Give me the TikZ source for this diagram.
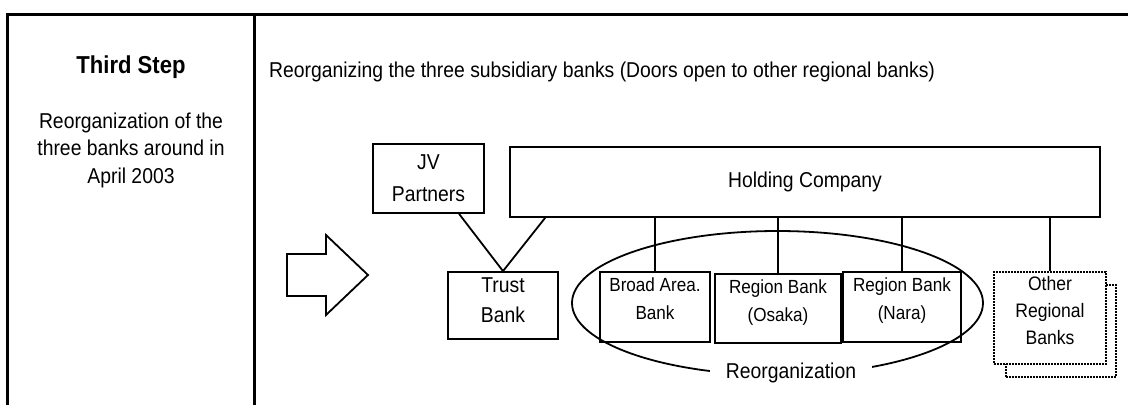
\documentclass[tikz,border=0pt]{standalone}
\usepackage{fontspec}
\setmainfont{Liberation Sans}[FakeStretch=0.9]
\usetikzlibrary{shapes.geometric,calc}
\newcommand{\dropline}[1]{\rule[-#1]{0pt}{#1}}
\begin{document}
\begin{tikzpicture}[x=1pt,y=-1pt,
  every node/.style={font=\fontsize{21.5}{30}\selectfont, inner sep=0pt},
  box/.style={draw, line width=1.8pt, align=center},
  small/.style={font=\fontsize{19}{28}\selectfont},
  frame/.style={line width=3pt},
  conn/.style={line width=1.8pt},
  dotbox/.style={draw, line width=2.6pt, dash pattern=on 2pt off 1pt, align=center}]
\useasboundingbox (0,0) rectangle (1128,405);
% frame
\draw[frame] (7,405) -- (7,14) -- (1128,14);
\draw[frame] (254,14) -- (254,405);
% left column
\node[font=\bfseries\fontsize{24.5}{30}\selectfont] (step) at (131,67) {Third Step};
\node[align=center, font=\fontsize{21.5}{27.5}\selectfont] (desc) at (131,150) {Reorganization of the\\three banks around in\\April 2003};
% title
\node[anchor=west] (title) at (269,72) {Reorganizing the three subsidiary banks (Doors open to other regional banks)};
% block arrow
\draw[line width=1.8pt, line join=miter] (287,254) -- (326,254) -- (326,235) -- (368,275) -- (326,315) -- (326,296) -- (287,296) -- cycle;
% ellipse
\node[draw, ellipse, line width=1.8pt, minimum width=411pt, minimum height=144pt] (reorg) at (777.5,303) {};
\node[fill=white, inner xsep=16pt, inner ysep=3pt] (reorglabel) at (791,373) {Reorganization};
% boxes
\node[box, minimum width=111pt, minimum height=69pt] (jv) at (428.5,178.5) {JV\\[2pt]Partners};
\node[box, minimum width=590pt, minimum height=70pt] (holding) at (805,182) {Holding Company};
\node[box, minimum width=110pt, minimum height=67pt] (trust) at (503,305.5) {Trust\\Bank\dropline{11pt}};
\node[box, small, minimum width=110pt, minimum height=70pt] (broad) at (655,307) {Broad Area.\\Bank\dropline{16pt}};
\node[box, small, minimum width=126pt, minimum height=69pt] (osaka) at (778,308.5) {Region Bank\\(Osaka)\dropline{16pt}};
\node[box, small, minimum width=118pt, minimum height=70pt] (nara) at (902,307) {Region Bank\\(Nara)\dropline{16pt}};
\node[dotbox, minimum width=110pt, minimum height=92pt] (othershadow) at (1061,331) {};
\node[dotbox, fill=white, font=\fontsize{19.5}{27}\selectfont, minimum width=112pt, minimum height=92pt] (other) at (1050,318) {Other\\Regional\\Banks\dropline{15pt}};
% connectors
\draw[conn] ($(jv.south west)+(87,0)$) -- (trust.north);
\draw[conn] ($(holding.south west)+(36,0)$) -- (trust.north);
\draw[conn] (broad.north |- holding.south) -- (broad.north);
\draw[conn] (osaka.north |- holding.south) -- (osaka.north);
\draw[conn] (nara.north |- holding.south) -- (nara.north);
\draw[conn] (other.north |- holding.south) -- (other.north);
\end{tikzpicture}
\end{document}
